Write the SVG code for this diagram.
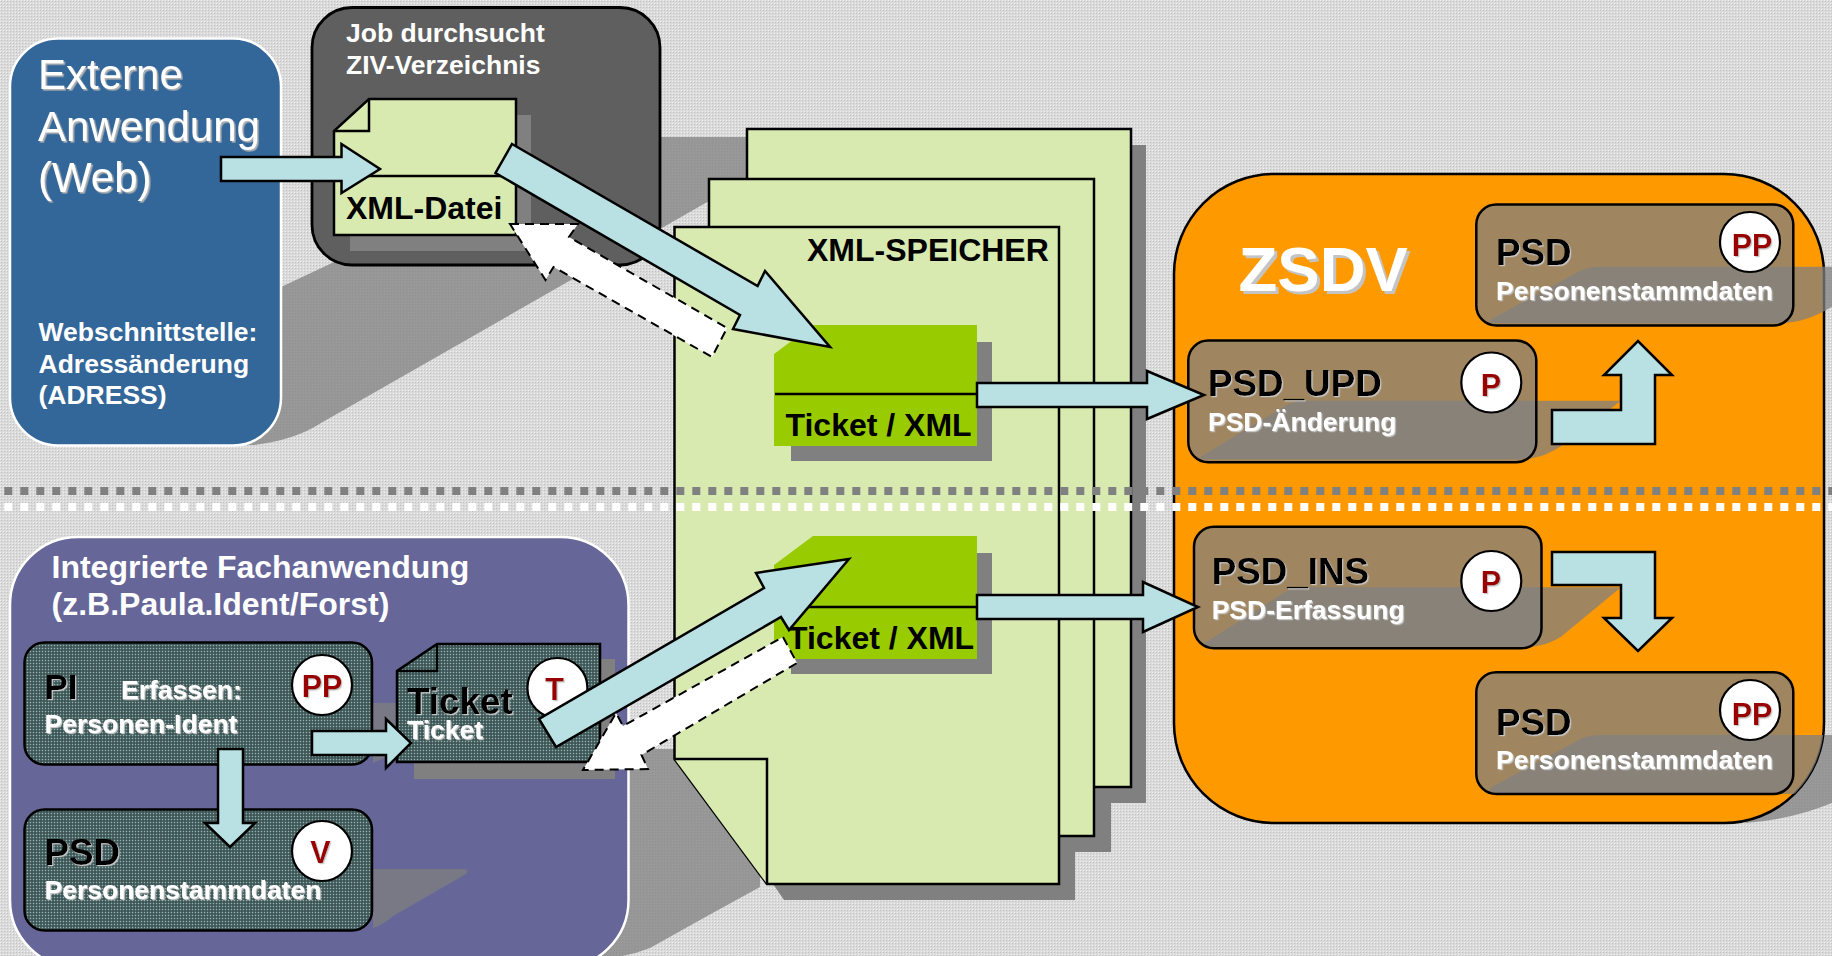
<svg xmlns="http://www.w3.org/2000/svg" width="1832" height="956" viewBox="0 0 1832 956">
<style>
text{font-family:"Liberation Sans",Arial,sans-serif;font-weight:bold}
.w{fill:#fff}.k{fill:#000}.r{fill:#990000;font-size:30.5px;text-anchor:middle}
.s26{font-size:26.5px}.s32{font-size:32px}.s36{font-size:36.8px}
.ln{stroke:#000;stroke-width:2.5;stroke-linejoin:miter}
.page{fill:#d9eab1;stroke:#000;stroke-width:2.5}
.sh{fill:#808080}
.tr{fill:#808080;fill-opacity:.75}
.arrow{fill:#b9e0e3;stroke:#000;stroke-width:2.5;stroke-linejoin:miter}
.back{fill:#fff;stroke:#000;stroke-width:2;stroke-dasharray:9 6}
.node{fill:url(#dots);stroke:#000;stroke-width:2.5}
.onode{fill:#808080;fill-opacity:.75;stroke:#000;stroke-width:2.5}
.c{fill:#fff;stroke:#000;stroke-width:2.2}
.ts{filter:url(#ts)}.tb{filter:url(#tb)}.tz{filter:url(#tz)}
.tick{fill:#99cc00}
.reg{font-size:42px;font-weight:normal}
</style>
<defs>
<pattern id="bg" width="3" height="3" patternUnits="userSpaceOnUse"><rect width="3" height="3" fill="#dadada"/><rect width="1" height="1" fill="#f0f0f0"/><rect x="1" y="1" width="1" height="1" fill="#c2c2c2"/></pattern>
<pattern id="dots" width="3" height="3" patternUnits="userSpaceOnUse"><rect width="3" height="3" fill="#4f6868"/><rect width="1" height="1" fill="#90b4b4"/><rect x="1" y="1" width="2" height="2" fill="#405656"/></pattern>
<filter id="ts" x="-10%" y="-20%" width="120%" height="140%"><feDropShadow dx="1.6" dy="1.6" stdDeviation="0" flood-color="#b4b4b4"/></filter>
<filter id="tb" x="-10%" y="-20%" width="120%" height="140%"><feDropShadow dx="1.2" dy="1.2" stdDeviation="0" flood-color="#c8c8c8"/></filter>
<filter id="tz" x="-10%" y="-20%" width="120%" height="140%"><feDropShadow dx="3" dy="3" stdDeviation="0" flood-color="#c4c4c4"/></filter>
<clipPath id="oc"><rect x="1174" y="174" width="650" height="649" rx="100"/></clipPath>
</defs>
<rect width="1832" height="956" fill="url(#bg)"/>
<g id="shadows">
<path class="tr" d="M200,445H254Q295,440 321,423L800,149V137H600L281,287L200,300Z"/>
<path class="tr" d="M590,749H760V887L700,920L650,948Q625,958 590,960Z"/>
<path class="tr" d="M1800,735H1832V803Q1790,820 1745,823Z"/>
</g>
<g id="xml-speicher">
<path class="sh" d="M763,145H1146V803H1111V852H1075V900H784L773,884V300H763Z"/>
<path class="page" d="M747,129H1131V787H839L747,662Z"/>
<path class="page" d="M709,179H1094V836H801L709,711Z"/>
<path class="page" d="M674.500,227H1059V884H767L674.500,759Z"/>
<path class="page" d="M674.500,759H767V884" fill="none"/>
<text class="k s32" x="807" y="261">XML-SPEICHER</text>
</g>
<g id="ticket-upd">
<rect class="sh" x="791" y="342" width="201" height="119"/>
<path class="tick" d="M813,325H977V446H774V354Z"/>
<path class="ln" d="M775,394H977"/>
<text class="k s32" x="785.500" y="436">Ticket / XML</text>
</g>
<g id="ticket-ins">
<rect class="sh" x="791" y="553" width="201" height="121"/>
<path class="tick" d="M813,536H977V659H774V565Z"/>
<path class="ln" d="M775,607H977"/>
<text class="k s32" x="788" y="649">Ticket / XML</text>
</g>
<g id="zsdv">
<rect x="1174" y="174" width="650" height="649" rx="100" fill="#ff9900" stroke="#000" stroke-width="2.5"/>
<text class="w tz" x="1238.500" y="291" font-size="63.500">ZSDV</text>
<path class="tr" clip-path="url(#oc)" d="M1490,788L1575,742Q1585,735 1600,735H1832V780L1793,794H1490Z"/>
<path class="tr" d="M1490,320L1578,272Q1588,266.700 1600,266.700H1832V306.700Q1805,323 1781.500,323H1490Z"/>
<path class="tr" d="M1200.700,456.700L1285,406Q1295,400.700 1305,400.700H1621L1563,445Q1545,457 1528,459H1200.700Z"/>
<path class="tr" d="M1205,642.700L1285,592Q1295,587.300 1305,587.300H1621L1561,636.700Q1548,645 1533,646.700H1205Z"/>
</g>
<g id="psd-pp-top">
<rect class="onode" x="1476.300" y="204.500" width="317" height="121" rx="20"/>
<text class="k s36 tb" x="1496" y="265">PSD</text>
<text class="w s26 tb" x="1496" y="299.500">Personenstammdaten</text>
<circle class="c" cx="1750" cy="242" r="30"/>
<text class="r tb" x="1752" y="255.500">PP</text>
</g>
<g id="psd-upd">
<rect class="onode" x="1188.300" y="340.500" width="348" height="121.700" rx="20"/>
<text class="k s36 tb" x="1208" y="396">PSD_UPD</text>
<text class="w s26 tb" x="1208" y="430.500">PSD-Änderung</text>
<circle class="c" cx="1491.300" cy="382.500" r="30"/>
<text class="r tb" x="1491" y="396">P</text>
</g>
<g id="psd-ins">
<rect class="onode" x="1194" y="526.700" width="347.500" height="121.600" rx="20"/>
<text class="k s36 tb" x="1211.700" y="584">PSD_INS</text>
<text class="w s26 tb" x="1211.700" y="618.500">PSD-Erfassung</text>
<circle class="c" cx="1491.300" cy="581" r="30"/>
<text class="r tb" x="1491" y="593">P</text>
</g>
<g id="psd-pp-bottom">
<rect class="onode" x="1476.300" y="672.300" width="317" height="121.700" rx="20"/>
<text class="k s36 tb" x="1496" y="734.500">PSD</text>
<text class="w s26 tb" x="1496" y="768.800">Personenstammdaten</text>
<circle class="c" cx="1750" cy="710" r="30"/>
<text class="r tb" x="1752" y="725">PP</text>
</g>
<g id="dividers">
<path d="M4.300,491H1832" stroke="#808080" stroke-width="8" stroke-dasharray="8 8" fill="none"/>
<path d="M4.300,507H1832" stroke="#fff" stroke-width="8" stroke-dasharray="8 8" fill="none"/>
</g>
<g id="externe-anwendung">
<rect x="10" y="38.500" width="271" height="407" rx="48" fill="#336699" stroke="#fff" stroke-width="2.500"/>
<text class="w ts reg" x="38" y="89" style="font-weight:normal">Externe</text>
<text class="w ts reg" x="38" y="141" style="font-weight:normal">Anwendung</text>
<text class="w ts reg" x="38" y="192" style="font-weight:normal">(Web)</text>
<text class="w s26" x="38.500" y="341">Webschnittstelle:</text>
<text class="w s26" x="38.500" y="373">Adressänderung</text>
<text class="w s26" x="38.500" y="404">(ADRESS)</text>
</g>
<g id="job">
<rect x="312" y="7.500" width="348" height="257.500" rx="40" fill="#5f5f5f" stroke="#000" stroke-width="2.800"/>
<text class="w s26" x="346" y="42">Job durchsucht</text>
<text class="w s26" x="346" y="74">ZIV-Verzeichnis</text>
</g>
<g id="xml-datei">
<rect class="sh" x="350" y="115" width="181" height="136"/>
<path d="M369,99H516V235H334V131Z" fill="#d9eab1" stroke="#000" stroke-width="2.500"/>
<path class="ln" d="M334,131H369V99M334,176H516" fill="none"/>
<text class="k s32" x="346" y="219">XML-Datei</text>
</g>
<g id="integrierte-fachanwendung">
<rect x="10" y="537" width="618.500" height="431" rx="68" fill="#666699" stroke="#fff" stroke-width="2.500"/>
<text class="w s32" x="51.500" y="578">Integrierte Fachanwendung</text>
<text class="w s32" x="51.500" y="615">(z.B.Paula.Ident/Forst)</text>
<path class="tr" d="M373,869H462Q470,869 466,874L393,916Q383,925 373,928Z"/>
<path class="tr" d="M373,703H397V756L388,756L373,763Z"/>
</g>
<g id="pi">
<rect class="node" x="24.500" y="642.500" width="347.500" height="122" rx="20"/>
<text class="k tb" x="44.500" y="698.700" font-size="35">PI</text>
<text class="w s26 tb" x="121" y="698.700">Erfassen:</text>
<text class="w s26 tb" x="44.500" y="732.700">Personen-Ident</text>
<circle class="c" cx="322" cy="685" r="30"/>
<text class="r tb" x="322" y="697">PP</text>
</g>
<g id="psd-v">
<rect class="node" x="24.500" y="809.500" width="347.500" height="121" rx="20"/>
<text class="k s36 tb" x="44.500" y="864.500">PSD</text>
<text class="w s26 tb" x="44.500" y="899">Personenstammdaten</text>
<circle class="c" cx="322" cy="851" r="30"/>
<text class="r tb" x="320.500" y="863">V</text>
</g>
<g id="ticket-file">
<rect class="sh" x="414" y="659" width="201" height="120"/>
<path class="node" d="M437,644H600V762H397V671Z"/>
<path class="ln" d="M397,671H437V644" fill="none"/>
<text class="k s36 tb" x="407" y="714">Ticket</text>
<text class="w s26 tb" x="407" y="738.700">Ticket</text>
<circle class="c" cx="557.400" cy="688" r="30"/>
<text class="r tb" x="554.500" y="700">T</text>
</g>
<g id="connectors">
<path class="arrow" d="M221,157H341.500V144L380,169L341.500,193V181H221Z"/>
<path class="arrow" d="M512,144L757.600,286L765,271L830,347L733,329L740,315L495.500,173Z"/>
<path class="back" d="M510,224H578L569,237L727,328L712,357L553.500,267L545.500,280Z"/>
<path class="arrow" d="M977,383H1147V371L1204,395L1147,419V407H977Z"/>
<path class="arrow" d="M977,595H1143V582L1198,607L1143,632V619H977Z"/>
<path class="arrow" d="M1552,410H1621V375H1604L1638,341L1672,375H1655V444H1552Z"/>
<path class="arrow" d="M1552,552H1655V618H1672L1638,651L1604,618H1621V585H1552Z"/>
<path class="arrow" d="M849,559L789,630L781,617L556,747L539,719L764,588L756,573Z"/>
<path class="back" d="M783,637L797,663L641.500,755L648,769L583,770L616,713L623,726Z"/>
<path class="arrow" d="M312,731H386V719L411,743L386,768V755H312Z"/>
<path class="arrow" d="M218,749H243V823H255L230,847L205,823H218Z"/>
</g>
</svg>
